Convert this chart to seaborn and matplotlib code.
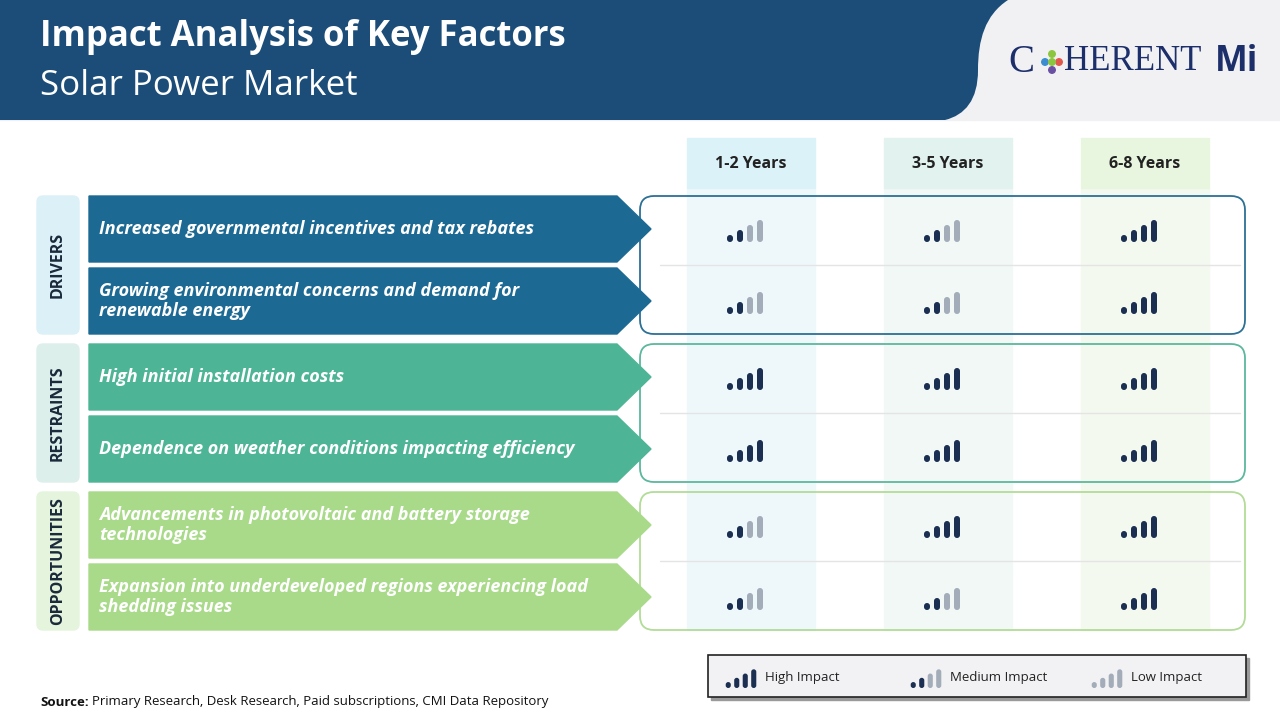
import matplotlib
matplotlib.use("Agg")
import matplotlib.pyplot as plt
import seaborn as sns
from matplotlib.patches import Rectangle, Polygon, FancyBboxPatch, PathPatch
from matplotlib.path import Path

sns.set_theme(style="white")
plt.rcParams["font.family"] = "Open Sans"

title = "Impact Analysis of Key Factors"
subtitle = "Solar Power Market"
periods = ["1-2 Years", "3-5 Years", "6-8 Years"]
groups = ["DRIVERS", "RESTRAINTS", "OPPORTUNITIES"]
factors = [
    "Increased governmental incentives and tax rebates",
    "Growing environmental concerns and demand for\nrenewable energy",
    "High initial installation costs",
    "Dependence on weather conditions impacting efficiency",
    "Advancements in photovoltaic and battery storage\ntechnologies",
    "Expansion into underdeveloped regions experiencing load\nshedding issues",
]
factor_group = [0, 0, 1, 1, 2, 2]
# impact: 3 = high, 2 = medium, 1 = low
impact = [
    [2, 2, 3],
    [2, 2, 3],
    [3, 3, 3],
    [3, 3, 3],
    [2, 3, 3],
    [2, 2, 3],
]
legend_labels = ["High Impact", "Medium Impact", "Low Impact"]
legend_levels = [3, 2, 1]
source = "Primary Research, Desk Research, Paid subscriptions, CMI Data Repository"

group_fill = ["#1c6a94", "#4db596", "#a9da8a"]
group_light = ["#dcf0f7", "#dcefeb", "#e5f4dc"]
group_edge = ["#2c7096", "#5cb89d", "#b2dc97"]
col_head = ["#dcf2f9", "#e1f2ef", "#e8f6df"]
col_bg = ["#eef8fb", "#f1f8f6", "#f3f9ee"]
dark = "#1b2f52"
grey = "#a3acb9"

fig = plt.figure(figsize=(12.8, 7.2), dpi=100)
ax = fig.add_axes([0, 0, 1, 1])
ax.set_xlim(0, 1280)
ax.set_ylim(720, 0)
ax.axis("off")

# header
ax.add_patch(Rectangle((0, 0), 1280, 120, color="#f1f1f3", zorder=0))
codes = [Path.MOVETO, Path.LINETO, Path.CURVE4, Path.CURVE4, Path.CURVE4,
         Path.CURVE4, Path.CURVE4, Path.CURVE4, Path.LINETO, Path.CLOSEPOLY]
verts = [(0, 0), (1008, 0), (985, 15), (978, 40), (978, 70),
         (978, 100), (965, 115), (945, 120), (0, 120), (0, 0)]
ax.add_patch(PathPatch(Path(verts, codes), color="#1b4d78", lw=0, zorder=1))
ax.text(40, 37, title, color="white", fontsize=25, fontweight="bold", va="center")
ax.text(40, 86, subtitle, color="white", fontsize=25, va="center")
ax.text(1008, 62, "C", color="#1d2f6b", fontsize=28, family="Liberation Serif", va="center")
ax.text(1064, 62, "HERENT", color="#1d2f6b", fontsize=25, family="Liberation Serif", va="center")
ax.text(1215, 62, "Mi", color="#1d2f6b", fontsize=25, fontweight="bold", va="center")
ax.scatter([1052, 1045, 1059, 1052, 1052], [54, 62, 62, 70, 62], s=22,
           c=["#8cc63f", "#3b8dd0", "#e2574c", "#6a4fa3", "#8cc63f"], zorder=3)

row_top = [196, 268, 344, 416, 492, 564]
row_h = 66
col_x = [687, 884, 1081]
col_w = 128

# column backgrounds and headers
for j, p in enumerate(periods):
    ax.add_patch(Rectangle((col_x[j], 188), col_w, 442, color=col_bg[j], zorder=1))
    ax.add_patch(Rectangle((col_x[j], 138), col_w, 50, color=col_head[j], zorder=1))
    ax.text(col_x[j] + col_w / 2, 164, p, fontsize=11.5, fontweight="bold", color="#222", ha="center", va="center")

# group boxes
for g, name in enumerate(groups):
    y0 = row_top[2 * g]
    y1 = row_top[2 * g + 1] + row_h
    ax.add_patch(FancyBboxPatch((37, y0), 42, y1 - y0, boxstyle="round,pad=0,rounding_size=6",
                                color=group_light[g], zorder=1))
    ax.text(58, (y0 + y1) / 2, name, rotation=90, fontsize=11.5, fontweight="bold", color="#1a2a3a",
            ha="center", va="center")
    ax.add_patch(FancyBboxPatch((640, y0), 605, y1 - y0, boxstyle="round,pad=0,rounding_size=14",
                                fill=False, ec=group_edge[g], lw=1.3, zorder=2))
    ax.plot([660, 1240], [y0 + row_h + 3, y0 + row_h + 3], color="#e4e4e4", lw=1, zorder=2)

# factor arrows
for i, f in enumerate(factors):
    y = row_top[i]
    c = group_fill[factor_group[i]]
    ax.add_patch(Polygon([(89, y), (617, y), (651, y + row_h / 2), (617, y + row_h), (89, y + row_h)],
                         closed=True, color=c, zorder=3))
    ax.text(99, y + row_h / 2, f, fontsize=13, fontweight="bold", style="italic", color="white",
            va="center", linespacing=1.1, zorder=4)


def signal(cx, cy, level, scale=1.0):
    xs = [cx - 15 * scale, cx - 5 * scale, cx + 5 * scale, cx + 15 * scale]
    hs = [7 * scale, 12 * scale, 17 * scale, 22 * scale]
    for k in range(4):
        on = (level == 3) or (level == 2 and k < 2)
        ax.add_patch(FancyBboxPatch((xs[k] - 3 * scale, cy - hs[k]), 6 * scale, hs[k],
                                    boxstyle=f"round,pad=0,rounding_size={3 * scale}",
                                    color=dark if on else grey, lw=0, zorder=5))


for i in range(len(factors)):
    for j in range(len(periods)):
        signal(col_x[j] + 58, row_top[i] + 46, impact[i][j])

# legend
ax.add_patch(Rectangle((711, 658), 538, 42, color="#9a9a9a", zorder=1))
ax.add_patch(Rectangle((708, 655), 538, 42, fc="#f2f2f4", ec="#222", lw=1.2, zorder=2))
leg_x = [741, 926, 1107]
for k, lab in enumerate(legend_labels):
    signal(leg_x[k], 688, legend_levels[k], scale=0.85)
    ax.text(leg_x[k] + 24, 677, lab, fontsize=9.5, color="#222", va="center", zorder=6)

ax.text(40, 702, "Source:", fontsize=9.5, fontweight="bold", color="#111", va="center")
ax.text(92, 702, source, fontsize=9.5, color="#111", va="center")

fig.savefig("out.png", dpi=100)
